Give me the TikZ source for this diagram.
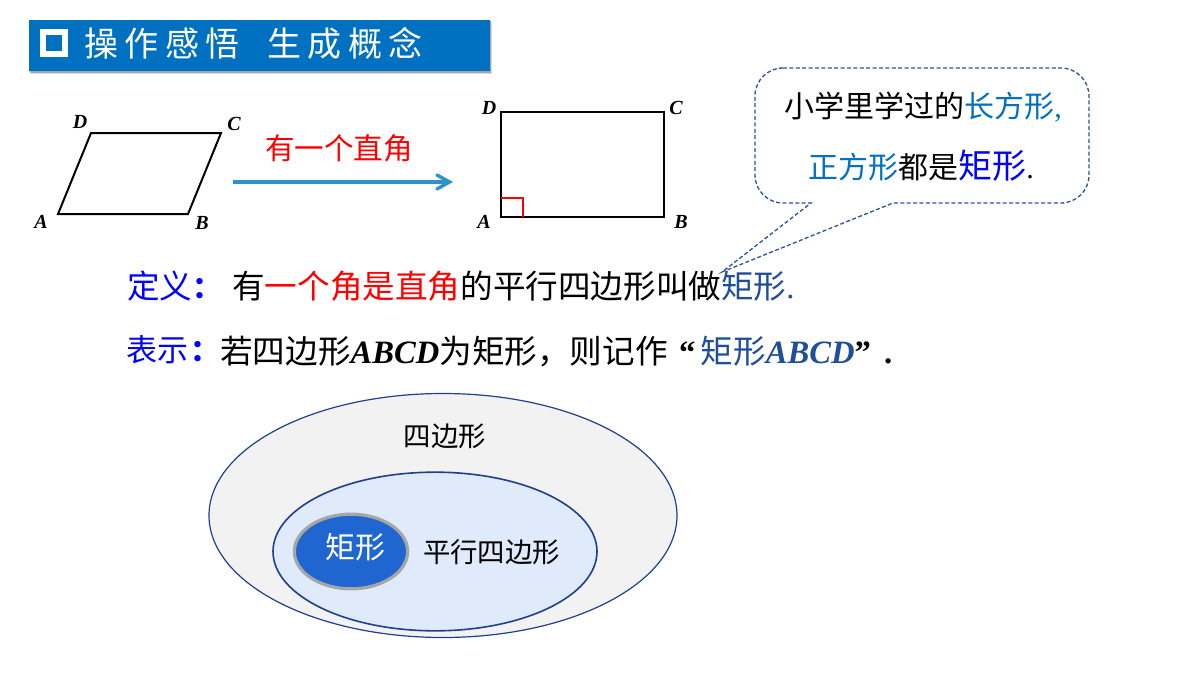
\documentclass[tikz,border=0pt]{standalone}
\usepackage{fontspec}
\usetikzlibrary{shapes.geometric}
\setmainfont{Liberation Serif}
\newfontfamily\cjk{Noto Sans CJK SC}
\newfontfamily\cjktitle[LetterSpace=19]{Noto Sans CJK SC}
\newcommand{\px}[1]{\fontsize{\dimexpr#1pt*3/4\relax}{\dimexpr#1pt\relax}\selectfont}
\newcommand{\lat}[1]{{\bfseries\itshape #1}}
\definecolor{barblue}{HTML}{0070C0}
\definecolor{arrowblue}{HTML}{2E94C8}
\definecolor{callblue}{HTML}{2F5597}
\definecolor{rectblue}{HTML}{1F4E9A}
\definecolor{edgeblue}{HTML}{1F3F8F}
\definecolor{outerfill}{HTML}{F2F2F2}
\definecolor{midfill}{HTML}{DFEAFA}
\definecolor{innerfill}{HTML}{1F66D1}
\tikzset{
  figline/.style={draw=black,line width=1.5pt,line join=miter},
  ptlabel/.style={font=\px{20}\bfseries\itshape,inner sep=0pt},
  cjklabel/.style={font=\cjk\px{27.4},inner sep=0pt},
  textline/.style={anchor=base west,inner sep=0pt,font=\cjk\px{32.6}},
  callline/.style={anchor=base,inner sep=0pt,font=\cjk\px{30}}
}
\begin{document}
\begin{tikzpicture}[x=0.75pt,y=-0.75pt]
\useasboundingbox (0,0) rectangle (1200,675);
% title bar
\fill[black!15] (31,22) rectangle (492,74);
\fill[black!35] (30,21) rectangle (491,72.5);
\node[fill=barblue,inner sep=0pt,minimum width=345.75pt,minimum height=38.25pt,anchor=north west] (bar) at (29,20) {};
\node[draw=white,line width=4.5pt,inner sep=0pt,minimum width=17pt,minimum height=16.5pt] (bullet) at (54,42.5) {};
\node[anchor=base west,inner sep=0pt,text=white,font=\cjktitle\px{34}] (title1) at (84,56) {操作感悟};
\node[anchor=base west,inner sep=0pt,text=white,font=\cjktitle\px{34}] (title2) at (267,56) {生成概念};
% parallelogram
\coordinate (pA) at (58,214);
\coordinate (pB) at (188,214);
\coordinate (pC) at (221,133);
\coordinate (pD) at (91,133);
\draw[figline] (pA) -- (pB) -- (pC) -- (pD) -- cycle;
\node[ptlabel] (lpD) at (80,122) {D};
\node[ptlabel] (lpC) at (234,124) {C};
\node[ptlabel] (lpA) at (41,222) {A};
\node[ptlabel] (lpB) at (202,223) {B};
% arrow
\coordinate (arS) at (233,182);
\coordinate (arE) at (449.5,182);
\draw[arrowblue,line width=2.6pt] (arS) -- (arE);
\draw[arrowblue,line width=2.6pt,line join=miter,line cap=round] (437,175) -- (arE) -- (437,189);
\node[inner sep=0pt,text=red,font=\cjk\px{29.6}] (arlab) at (339,148) {有一个直角};
% rectangle
\coordinate (rA) at (501,217);
\coordinate (rB) at (664,217);
\coordinate (rC) at (664,112);
\coordinate (rD) at (501,112);
\draw[figline] (rA) -- (rB) -- (rC) -- (rD) -- cycle;
\draw[red,line width=1.5pt] (501,198) -- (523,198) -- (523,217);
\node[ptlabel] (lrD) at (489,108) {D};
\node[ptlabel] (lrC) at (676,108) {C};
\node[ptlabel] (lrA) at (484,222) {A};
\node[ptlabel] (lrB) at (681,222) {B};
% callout
\draw[callblue,line width=1pt,dash pattern=on 3pt off 1.8pt,fill=white]
  (783,68) -- (1061,68) arc[start angle=-90,end angle=0,radius=28] -- (1089,175)
  arc[start angle=0,end angle=90,radius=28] -- (893,203) -- (722,272) -- (811,203) -- (783,203)
  arc[start angle=90,end angle=180,radius=28] -- (755,96)
  arc[start angle=180,end angle=270,radius=28] -- cycle;
\node[callline] (c1) at (923,117.5) {小学里学过的\textcolor{barblue}{长方形}\textcolor{barblue}{\rmfamily ,}};
\node[callline] (c2) at (921,178) {\textcolor{barblue}{正方形}都是\textcolor{blue}{\px{34}矩形}{\rmfamily .}};
% definition lines
\node[textline,text=blue] (d0) at (127,298) {定义{\bfseries\px{30}：}};
\node[textline] (d1) at (232,298) {有\textcolor{red}{一个角是直角}的平行四边形叫做\textcolor{rectblue}{矩形{\rmfamily .}}};
\node[textline,text=blue,font=\cjk\px{31}] (e0) at (126,361) {表示};
\node[textline,text=blue,font=\cjk\bfseries\px{30}] (e0b) at (190,361) {：};
\node[textline] (e1) at (220,363) {若四边形{\rmfamily\lat{ABCD}}为矩形，则记作\makebox[33\dimexpr0.75pt\relax][r]{\rmfamily\bfseries “\hspace{4pt}}\textcolor{rectblue}{矩形{\rmfamily\lat{ABCD}}}{\rmfamily\bfseries ”\hspace{10pt}.}};
% nested sets
\node[ellipse,draw=edgeblue,line width=0.9pt,fill=outerfill,inner sep=0pt,minimum width=351pt,minimum height=183pt] (outer) at (443,515.5) {};
\node[ellipse,draw=edgeblue,line width=1.2pt,fill=midfill,inner sep=0pt,minimum width=243pt,minimum height=119pt] (mid) at (435,551.5) {};
\node[ellipse,draw=black!35,line width=2.4pt,fill=innerfill,inner sep=0pt,minimum width=85pt,minimum height=56pt] (inner) at (351,551.5) {};
\node[cjklabel] (t1) at (445,436) {四边形};
\node[cjklabel] (t2) at (491.5,552) {平行四边形};
\node[inner sep=0pt,text=white,font=\cjk\px{30}] (t3) at (355,547) {矩形};
\end{tikzpicture}
\end{document}
